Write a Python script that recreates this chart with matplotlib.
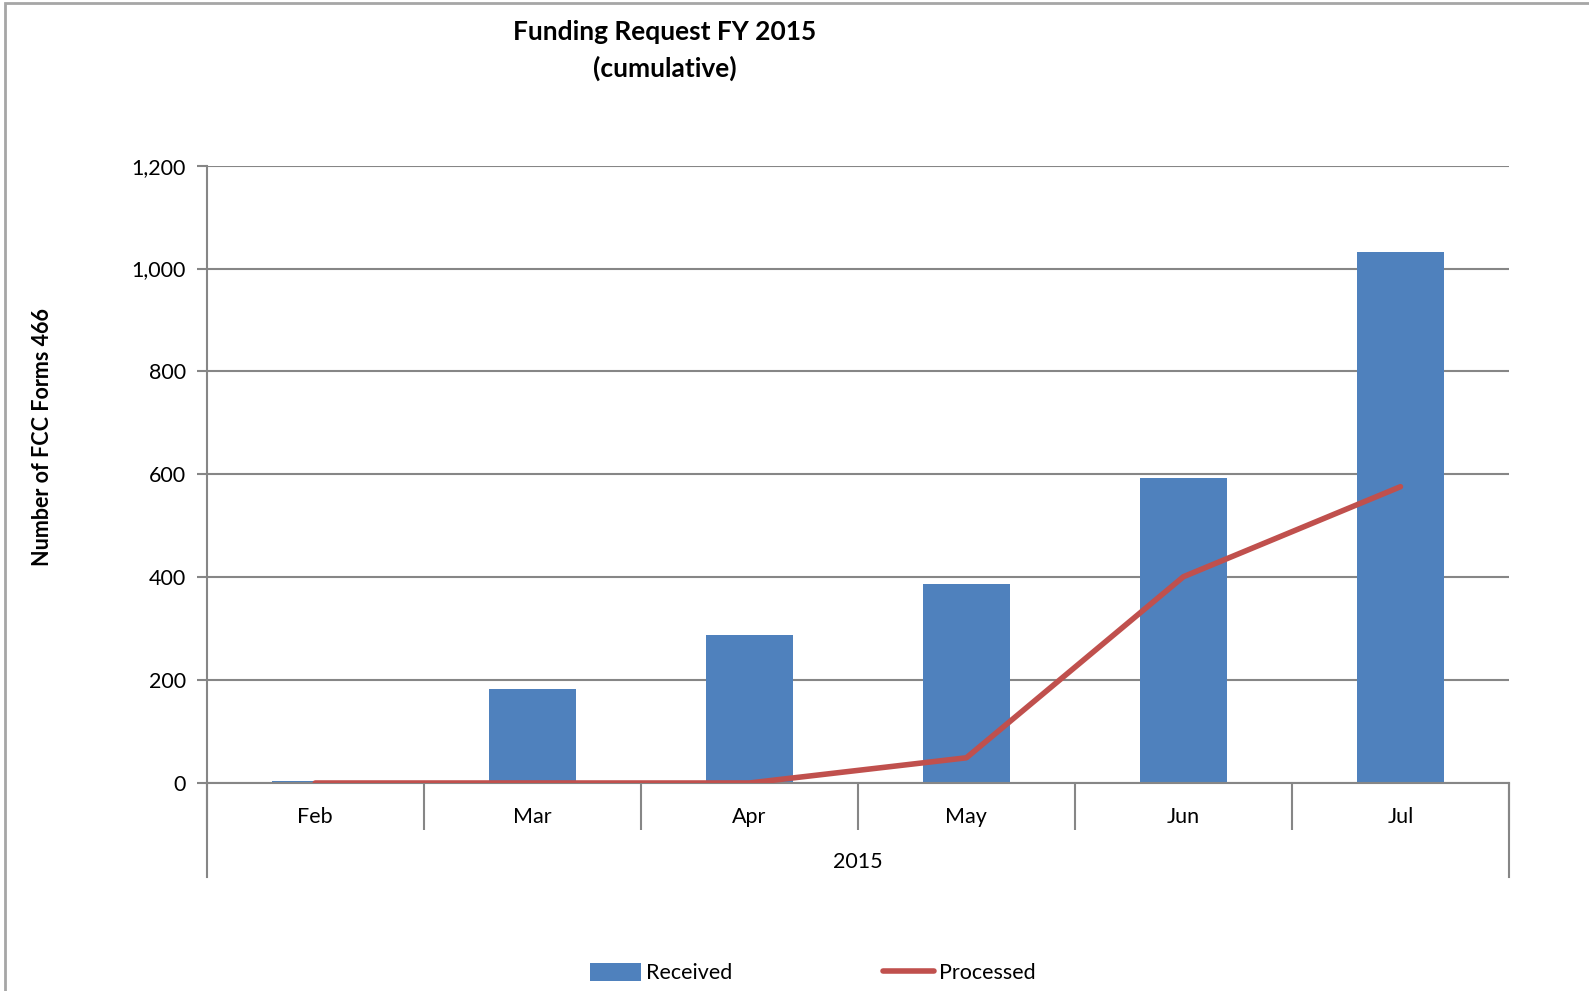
import matplotlib.pyplot as plt
from matplotlib.patches import Rectangle
from matplotlib.lines import Line2D

months = ['Feb', 'Mar', 'Apr', 'May', 'Jun', 'Jul']
received = [4, 183, 287, 387, 593, 1033]
processed = [0, 0, 0, 49, 401, 576]
yticks = [0, 200, 400, 600, 800, 1000, 1200]

plt.rcParams['font.family'] = ['Lato', 'DejaVu Sans']

W, H = 1589, 991
fig = plt.figure(figsize=(W / 100, H / 100), dpi=100)

# outer chart frame (right and bottom run off the picture)
fig.patches.append(Rectangle((5 / W, -0.1), 1.2, 1 - 3 / H + 0.1, transform=fig.transFigure,
                             fill=False, edgecolor='#a6a6a6', linewidth=2))

left, right, top, bottom = 206.7, 1509, 165.7, 783
ax = fig.add_axes([left / W, 1 - bottom / H, (right - left) / W, (bottom - top) / H])

grey = '#868686'
x = list(range(len(months)))
bars = ax.bar(x, received, width=0.4, color='#4f81bd', zorder=2, label='Received')
line, = ax.plot(x, processed, color='#c0504d', linewidth=4, zorder=3, label='Processed',
                solid_capstyle='round')

ax.set_xlim(-0.5, len(months) - 0.5)
ax.set_ylim(0, 1200)
ax.set_yticks(yticks)
ax.set_yticklabels([f'{v:,}' for v in yticks], fontsize=15.5)
ax.yaxis.grid(True, color=grey, linewidth=1.5, zorder=0)
ax.tick_params(axis='y', length=7, width=1.5, color=grey, pad=8)

for s in ['top', 'right']:
    ax.spines[s].set_visible(False)
for s in ['left', 'bottom']:
    ax.spines[s].set_color(grey)
    ax.spines[s].set_linewidth(1.5)

# category separators and labels
ax.set_xticks([i - 0.5 for i in range(len(months) + 1)])
ax.set_xticklabels([])
ax.tick_params(axis='x', which='major', length=34, width=1.5, color=grey)
ax.set_xticks(x, minor=True)
ax.set_xticklabels(months, minor=True, fontsize=15.5)
ax.tick_params(axis='x', which='minor', length=0, pad=17)

tr = ax.get_xaxis_transform()
for xe in [-0.5, len(months) - 0.5]:
    ax.add_line(Line2D([xe, xe], [0, -0.152], transform=tr, color=grey,
                       linewidth=1.5, clip_on=False))
ax.text((len(months) - 1) / 2, -0.128, '2015', transform=tr, ha='center', va='center',
        fontsize=15.5)

ax.set_ylabel('Number of FCC Forms 466', fontsize=15.5, fontweight='bold')
ax.yaxis.set_label_coords(-0.118, 0.56)

fig.text(665 / W, 1 - 50.5 / H, 'Funding Request FY 2015\n(cumulative)', ha='center',
         va='center', fontsize=19, fontweight='bold', linespacing=1.55)

fig.legend([bars, line], ['Received', 'Processed'], loc='center',
           bbox_to_anchor=(813 / W, 1 - 973 / H), ncol=2, frameon=False,
           fontsize=15.5, handlelength=2.35, handleheight=0.9, columnspacing=7,
           handletextpad=0.25)

fig.savefig('out.png', dpi=100)
